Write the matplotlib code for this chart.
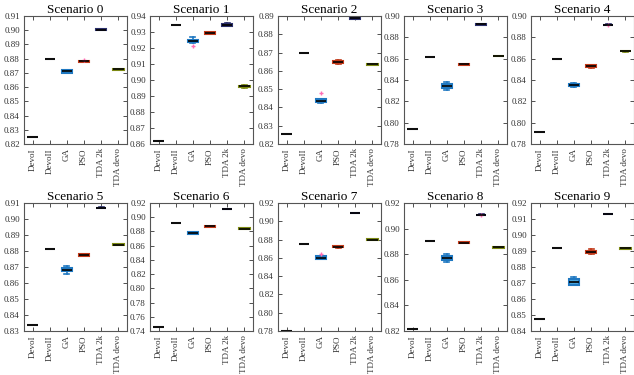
import matplotlib
matplotlib.use("Agg")
import matplotlib.pyplot as plt
from matplotlib.ticker import MultipleLocator

methods = ["DevoI", "DevoII", "GA", "PSO", "TDA 2k", "TDA devo"]
scenarios = ["Scenario %d" % i for i in range(10)]

y_limits = [(0.82, 0.91), (0.86, 0.94), (0.82, 0.89), (0.78, 0.90), (0.78, 0.90),
            (0.83, 0.91), (0.74, 0.92), (0.78, 0.92), (0.82, 0.92), (0.84, 0.92)]
y_steps = [0.01, 0.01, 0.01, 0.02, 0.02, 0.01, 0.02, 0.02, 0.02, 0.01]

# (whisker low, q1, median, q3, whisker high) per scenario
devo1 = [(0.825, 0.825, 0.825, 0.825, 0.825), (0.862, 0.862, 0.862, 0.862, 0.862),
         (0.8255, 0.8255, 0.8255, 0.8255, 0.8255), (0.794, 0.794, 0.794, 0.794, 0.794),
         (0.791, 0.791, 0.791, 0.791, 0.791), (0.8335, 0.8335, 0.8335, 0.8335, 0.8335),
         (0.746, 0.746, 0.746, 0.746, 0.746), (0.7805, 0.7805, 0.7805, 0.7805, 0.7805),
         (0.8215, 0.8215, 0.8215, 0.8215, 0.8215), (0.8475, 0.8475, 0.8475, 0.8475, 0.8475)]
devo2 = [(0.880, 0.880, 0.880, 0.880, 0.880), (0.9345, 0.9345, 0.9345, 0.9345, 0.9345),
         (0.870, 0.870, 0.870, 0.870, 0.870), (0.862, 0.862, 0.862, 0.862, 0.862),
         (0.860, 0.860, 0.860, 0.860, 0.860), (0.881, 0.881, 0.881, 0.881, 0.881),
         (0.892, 0.892, 0.892, 0.892, 0.892), (0.875, 0.875, 0.875, 0.875, 0.875),
         (0.890, 0.890, 0.890, 0.890, 0.890), (0.892, 0.892, 0.892, 0.892, 0.892)]
ga = [(0.8698, 0.8700, 0.8711, 0.8720, 0.8722), (0.9232, 0.9236, 0.9243, 0.9252, 0.9268),
      (0.8422, 0.8431, 0.8437, 0.8447, 0.8447), (0.8308, 0.8328, 0.8346, 0.8366, 0.8378),
      (0.8338, 0.8340, 0.8349, 0.8362, 0.8375), (0.8655, 0.8672, 0.8683, 0.8692, 0.8707),
      (0.8760, 0.8765, 0.8775, 0.8790, 0.8792), (0.8583, 0.8588, 0.8600, 0.8615, 0.8620),
      (0.8740, 0.8758, 0.8771, 0.8784, 0.8800), (0.8685, 0.8690, 0.8706, 0.8725, 0.8738)]
pso = [(0.8778, 0.8780, 0.8782, 0.8785, 0.8786), (0.9288, 0.9290, 0.9294, 0.9298, 0.9300),
       (0.8640, 0.8644, 0.8651, 0.8656, 0.8658), (0.8543, 0.8545, 0.8547, 0.8550, 0.8552),
       (0.8516, 0.8524, 0.8534, 0.8542, 0.8545), (0.8766, 0.8769, 0.8775, 0.8780, 0.8782),
       (0.8862, 0.8866, 0.8872, 0.8878, 0.8880), (0.8710, 0.8714, 0.8720, 0.8726, 0.8730),
       (0.8884, 0.8886, 0.8890, 0.8894, 0.8896), (0.8883, 0.8887, 0.8893, 0.8900, 0.8912)]
tda2k = [(0.9003, 0.9004, 0.9005, 0.9006, 0.9007), (0.9335, 0.9340, 0.9345, 0.9350, 0.9355),
         (0.8885, 0.8886, 0.8890, 0.8893, 0.8894), (0.8919, 0.8920, 0.8921, 0.8922, 0.8923),
         (0.8915, 0.8916, 0.8918, 0.8920, 0.8921), (0.9068, 0.9069, 0.9070, 0.9071, 0.9072),
         (0.9116, 0.9117, 0.9118, 0.9119, 0.9120), (0.9088, 0.9089, 0.9090, 0.9091, 0.9092),
         (0.9107, 0.9108, 0.9109, 0.9110, 0.9111), (0.9129, 0.9130, 0.9131, 0.9132, 0.9133)]
tda_devo = [(0.8720, 0.8722, 0.8725, 0.8728, 0.8730), (0.8950, 0.8955, 0.8960, 0.8965, 0.8970),
            (0.8630, 0.8632, 0.8635, 0.8637, 0.8638), (0.8622, 0.8623, 0.8625, 0.8627, 0.8628),
            (0.8666, 0.8668, 0.8670, 0.8672, 0.8673), (0.8836, 0.8838, 0.8840, 0.8842, 0.8844),
            (0.8836, 0.8838, 0.8840, 0.8842, 0.8843), (0.8796, 0.8798, 0.8800, 0.8802, 0.8803),
            (0.8851, 0.8852, 0.8853, 0.8854, 0.8855), (0.8913, 0.8914, 0.8916, 0.8918, 0.8919)]

# outliers: (scenario, method index, value)
outliers = [(0, 3, 0.8792), (1, 2, 0.9210), (2, 2, 0.8480), (7, 2, 0.8637), (8, 4, 0.9109),
            (4, 4, 0.8918)]

face_colors = ["#bdbdbd", "#bdbdbd", "#4aa8e0", "#e8743b", "#8c8fd6", "#c9cf3a"]
edge_colors = ["#555555", "#555555", "#1f78c1", "#c23a1a", "#2b2f6b", "#7d8a14"]

plt.rcParams["font.family"] = "Liberation Serif"

fig = plt.figure(figsize=(6.34, 3.75), dpi=100)
W, H = 634.0, 375.0
lefts = [24, 150, 278, 404, 531]
tops = [16, 203]
aw, ah = 103, 128

all_data = [devo1, devo2, ga, pso, tda2k, tda_devo]

for s in range(10):
    row, col = divmod(s, 5)
    ax = fig.add_axes([lefts[col] / W, 1 - (tops[row] + ah) / H, aw / W, ah / H])
    stats = []
    for m in range(6):
        lo, q1, med, q3, hi = all_data[m][s]
        fl = [v for (ss, mm, v) in outliers if ss == s and mm == m]
        stats.append(dict(whislo=lo, q1=q1, med=med, q3=q3, whishi=hi, fliers=fl))
    bp = ax.bxp(stats, positions=range(1, 7), widths=0.6, patch_artist=True,
                showfliers=True,
                medianprops=dict(color="black", linewidth=1.2),
                whiskerprops=dict(linewidth=1.2),
                capprops=dict(linewidth=1.2),
                flierprops=dict(marker="+", markersize=3, markeredgecolor="#ff6fb5",
                                markerfacecolor="#ff6fb5"))
    for m in range(6):
        bp["boxes"][m].set_facecolor(face_colors[m])
        bp["boxes"][m].set_edgecolor(edge_colors[m])
        bp["boxes"][m].set_linewidth(1.5)
        for w in bp["whiskers"][2 * m:2 * m + 2]:
            w.set_color(edge_colors[m])
        for c in bp["caps"][2 * m:2 * m + 2]:
            c.set_color(edge_colors[m])
    ax.set_xlim(0.5, 6.5)
    ax.set_ylim(*y_limits[s])
    ax.yaxis.set_major_locator(MultipleLocator(y_steps[s]))
    ax.yaxis.set_major_formatter(plt.FormatStrFormatter("%.2f"))
    ax.set_xticks(range(1, 7))
    ax.set_xticklabels(methods, rotation=90)
    ax.tick_params(direction="in", top=True, right=True, labelsize=6.5,
                   colors="#333333", length=3, width=0.6, pad=3)
    for sp in ax.spines.values():
        sp.set_color("#555555")
        sp.set_linewidth(0.8)
    ax.set_title(scenarios[s], fontsize=9.5, pad=2)

fig.savefig("out.png", dpi=100)
